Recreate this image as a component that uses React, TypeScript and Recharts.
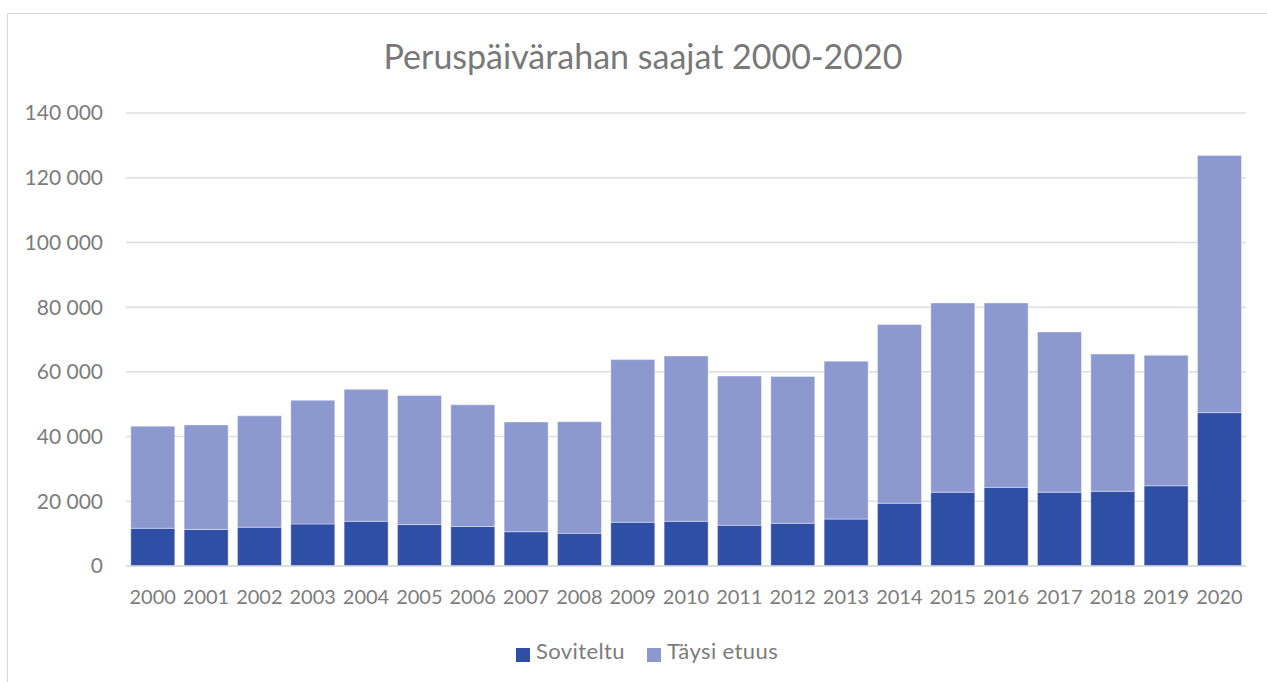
import { BarChart, Bar, XAxis, YAxis, CartesianGrid, Legend } from "recharts";

const years = [
  "2000", "2001", "2002", "2003", "2004", "2005", "2006", "2007", "2008", "2009", "2010",
  "2011", "2012", "2013", "2014", "2015", "2016", "2017", "2018", "2019", "2020",
];
// soviteltu (adjusted) recipients
const soviteltu = [
  11650, 11300, 12000, 13000, 13800, 12800, 12200, 10600, 10100, 13500, 13800,
  12600, 13200, 14500, 19400, 22800, 24300, 22800, 23100, 24800, 47400,
];
// total recipients, täysi etuus = total - soviteltu
const totals = [
  43200, 43600, 46400, 51200, 54600, 52700, 49800, 44500, 44600, 63800, 64900,
  58700, 58600, 63300, 74600, 81300, 81300, 72300, 65500, 65100, 126900,
];
const yTicks = [0, 20000, 40000, 60000, 80000, 100000, 120000, 140000];

const data = years.map((year, i) => ({
  year,
  soviteltu: soviteltu[i],
  taysi: totals[i] - soviteltu[i],
}));

const font = "Lato, 'Open Sans', sans-serif";
const fmt = (v: number) => (v === 0 ? "0" : `${Math.floor(v / 1000)} 000`);

export default function App() {
  return (
    <div
      style={{
        position: "absolute",
        left: 7,
        top: 13,
        width: 1300,
        height: 700,
        border: "1px solid #d9d9d9",
        background: "#fff",
        fontFamily: font,
      }}
    >
      <div
        style={{
          position: "absolute",
          left: 0,
          width: 1270,
          top: 21,
          textAlign: "center",
          fontSize: 34,
          color: "#787878",
        }}
      >
        Peruspäivärahan saajat 2000-2020
      </div>
      <BarChart
        width={1260}
        height={668}
        data={data}
        margin={{ top: 99, right: 22, left: 18, bottom: 5 }}
        barCategoryGap="9%"
      >
        <CartesianGrid vertical={false} stroke="#dedede" strokeWidth={1.5} />
        <XAxis
          dataKey="year"
          tickLine={false}
          axisLine={{ stroke: "#d9d9d9", strokeWidth: 1.5 }}
          tickSize={0}
          tickMargin={24}
          height={71}
          interval={0}
          tick={{ fill: "#7c7c7c", fontSize: 20, fontFamily: font }}
        />
        <YAxis
          ticks={yTicks}
          domain={[0, 140000]}
          tickFormatter={fmt}
          tickLine={false}
          axisLine={false}
          tickSize={0}
          tickMargin={23}
          width={100}
          tick={{ fill: "#7c7c7c", fontSize: 21, fontFamily: font }}
        />
        <Legend
          verticalAlign="bottom"
          height={40}
          iconType="square"
          iconSize={14}
          wrapperStyle={{ paddingLeft: 44, boxSizing: "border-box" }}
          formatter={(v) => (
            <span
              style={{
                color: "#7c7c7c",
                fontSize: 22,
                letterSpacing: 0.4,
                fontFamily: font,
                marginLeft: 2,
                marginRight: 12,
              }}
            >
              {v}
            </span>
          )}
        />
        <Bar
          dataKey="soviteltu"
          name="Soviteltu"
          stackId="a"
          fill="#2f4fa6"
          stroke="#ffffff"
          strokeOpacity={0.4}
          isAnimationActive={false}
        />
        <Bar
          dataKey="taysi"
          name="Täysi etuus"
          stackId="a"
          fill="#8b99cf"
          stroke="#ffffff"
          strokeOpacity={0.4}
          isAnimationActive={false}
        />
      </BarChart>
    </div>
  );
}
